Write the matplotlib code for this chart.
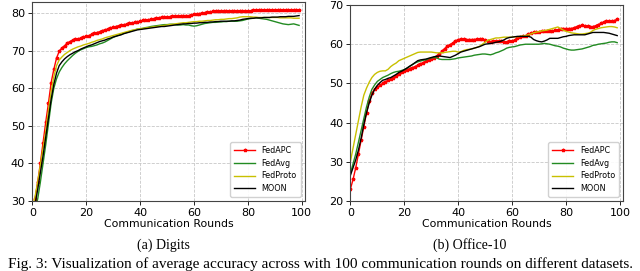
import numpy as np
import matplotlib.pyplot as plt

rounds = np.arange(100)

# Digits
digits_fedapc = [
    28.0, 30.5, 35.0, 40.0, 45.5, 51.0, 56.0, 61.5, 65.0, 68.0,
    69.8, 70.7, 71.3, 72.0, 72.4, 72.8, 73.0, 73.1, 73.3, 73.5,
    73.8, 74.0, 74.3, 74.6, 74.8, 75.0, 75.3, 75.5, 75.7, 76.0,
    76.2, 76.4, 76.6, 76.8, 76.9, 77.0, 77.2, 77.3, 77.5, 77.6,
    77.8, 78.0, 78.1, 78.2, 78.3, 78.5, 78.6, 78.7, 78.9, 78.9,
    79.0, 79.0, 79.1, 79.1, 79.2, 79.2, 79.3, 79.3, 79.3, 79.4,
    79.6, 79.7, 79.8, 80.0, 80.1, 80.2, 80.3, 80.4, 80.4, 80.5,
    80.5, 80.5, 80.5, 80.5, 80.5, 80.6, 80.6, 80.6, 80.6, 80.6,
    80.6, 80.6, 80.7, 80.7, 80.7, 80.7, 80.7, 80.7, 80.7, 80.7,
    80.7, 80.7, 80.7, 80.7, 80.7, 80.7, 80.7, 80.7, 80.7, 80.7]
digits_fedavg = [
    25.0, 27.5, 30.5, 35.0, 40.0, 45.0, 50.5, 56.0, 60.0, 62.5,
    64.3, 65.5, 66.5, 67.3, 68.0, 68.7, 69.3, 69.8, 70.2, 70.5,
    70.8, 71.0, 71.1, 71.3, 71.5, 71.8, 72.0, 72.3, 72.7, 73.1,
    73.5, 73.8, 74.1, 74.3, 74.6, 74.8, 75.0, 75.3, 75.5, 75.7,
    75.8, 75.9, 76.1, 76.2, 76.4, 76.5, 76.6, 76.7, 76.8, 76.9,
    76.9, 77.0, 77.0, 76.9, 76.8, 76.8, 76.9, 76.8, 76.8, 76.6,
    76.5, 76.6, 76.8, 77.0, 77.2, 77.3, 77.4, 77.5, 77.5, 77.6,
    77.6, 77.7, 77.7, 77.8, 77.8, 77.8, 77.8, 77.9, 78.0, 78.2,
    78.4, 78.5, 78.6, 78.7, 78.6, 78.5, 78.4, 78.3, 78.1, 77.9,
    77.7, 77.5, 77.3, 77.1, 77.0, 76.9, 77.0, 77.1, 76.9, 76.7]
digits_fedproto = [
    28.0, 31.0, 35.0, 39.5, 44.0, 48.5, 54.0, 59.0, 63.0, 66.0,
    67.5, 68.3, 69.0, 69.5, 70.0, 70.4, 70.7, 71.0, 71.2, 71.5,
    71.7, 71.9, 72.2, 72.4, 72.7, 72.9, 73.1, 73.4, 73.6, 73.8,
    74.0, 74.2, 74.4, 74.6, 74.8, 75.0, 75.2, 75.4, 75.5, 75.7,
    75.8, 75.9, 76.0, 76.1, 76.2, 76.3, 76.4, 76.5, 76.6, 76.7,
    76.8, 76.9, 77.0, 77.1, 77.2, 77.3, 77.4, 77.4, 77.5, 77.6,
    77.7, 77.7, 77.8, 77.8, 77.9, 78.0, 78.0, 78.1, 78.2, 78.2,
    78.3, 78.3, 78.4, 78.5, 78.5, 78.6, 78.7, 78.9, 79.0, 79.0,
    79.0, 79.0, 78.9, 78.9, 78.8, 78.8, 78.8, 78.8, 78.8, 78.8,
    78.8, 78.8, 78.7, 78.7, 78.7, 78.7, 78.7, 78.6, 78.6, 78.6]
digits_moon = [
    26.0, 29.0, 33.0, 37.5, 42.0, 47.0, 52.0, 57.0, 61.0, 64.0,
    66.0, 67.0, 67.8, 68.4, 68.9, 69.3, 69.7, 70.0, 70.4, 70.7,
    71.0, 71.3, 71.5, 71.8, 72.1, 72.4, 72.6, 72.8, 73.1, 73.3,
    73.6, 73.8, 74.0, 74.2, 74.5, 74.7, 74.9, 75.1, 75.3, 75.5,
    75.6, 75.7, 75.8, 75.9, 76.0, 76.1, 76.2, 76.3, 76.4, 76.4,
    76.5, 76.6, 76.7, 76.8, 76.9, 77.0, 77.1, 77.1, 77.2, 77.2,
    77.3, 77.3, 77.4, 77.4, 77.5, 77.5, 77.6, 77.6, 77.7, 77.7,
    77.8, 77.8, 77.8, 77.8, 77.9, 77.9, 78.0, 78.1, 78.3, 78.4,
    78.5, 78.6, 78.6, 78.7, 78.7, 78.7, 78.8, 78.8, 78.8, 78.9,
    78.9, 78.9, 79.0, 79.0, 79.0, 79.1, 79.1, 79.1, 79.2, 79.3]

# Office-10
office_fedapc = [
    23.0, 25.5, 28.5, 32.0, 35.5, 39.0, 42.5, 45.5, 47.5, 48.5,
    49.0, 49.5, 50.0, 50.4, 50.8, 51.1, 51.5, 52.0, 52.5, 52.9,
    53.2, 53.5, 53.8, 54.0, 54.3, 54.6, 55.0, 55.3, 55.7, 56.0,
    56.2, 56.6, 57.0, 57.5, 58.2, 58.9, 59.5, 59.9, 60.3, 60.8,
    61.2, 61.3, 61.3, 61.2, 61.2, 61.2, 61.2, 61.3, 61.3, 61.4,
    61.0, 60.8, 60.6, 60.7, 60.8, 60.8, 60.7, 60.6, 60.6, 60.7,
    60.8, 61.1, 61.5, 61.8, 62.0, 62.2, 62.5, 62.8, 63.0, 63.1,
    63.2, 63.3, 63.3, 63.3, 63.4, 63.4, 63.5, 63.7, 64.0, 64.0,
    64.0, 64.0, 64.0, 64.2, 64.5, 64.7, 64.8, 64.7, 64.6, 64.5,
    64.5, 64.7, 65.0, 65.3, 65.7, 65.8, 65.8, 65.9, 66.0, 66.4]
office_fedavg = [
    27.0, 29.5, 32.0, 35.0, 38.0, 41.0, 44.0, 46.5, 48.5, 49.6,
    50.5, 51.0, 51.5, 51.8, 52.1, 52.5, 52.8, 53.0, 53.1, 53.3,
    53.5, 53.9, 54.3, 54.8, 55.2, 55.5, 55.7, 55.9, 56.0, 56.3,
    56.5, 56.6, 56.5, 56.2, 56.1, 56.1, 56.1, 56.1, 56.2, 56.3,
    56.5, 56.6, 56.7, 56.8, 56.9, 57.0, 57.2, 57.3, 57.4, 57.5,
    57.5, 57.4, 57.3, 57.5, 57.8, 58.0, 58.3, 58.6, 59.0, 59.2,
    59.3, 59.4, 59.6, 59.8, 59.9, 60.0, 60.0, 60.0, 60.0, 60.0,
    60.0, 60.1, 60.2, 60.1, 60.0, 59.8, 59.6, 59.5, 59.3, 59.0,
    58.8, 58.6, 58.5, 58.5, 58.6, 58.7, 58.8, 59.0, 59.2, 59.4,
    59.7, 59.8, 60.0, 60.1, 60.2, 60.3, 60.5, 60.6, 60.6, 60.4]
office_fedproto = [
    30.0, 33.5, 37.0, 40.5, 44.0, 47.0, 48.8, 50.3, 51.5, 52.3,
    52.8, 53.1, 53.2, 53.2, 53.6, 54.3, 54.8, 55.2, 55.8, 56.1,
    56.4, 56.7, 57.0, 57.3, 57.6, 57.9, 58.0, 58.0, 58.0, 58.0,
    58.0, 57.9, 57.8, 57.8, 57.8, 57.9, 58.0, 58.1, 58.2, 58.2,
    58.0, 58.1, 58.4, 58.6, 58.7, 58.8, 59.0, 59.2, 59.5, 60.0,
    60.5, 61.0, 61.2, 61.4, 61.6, 61.6, 61.7, 61.8, 61.8, 61.8,
    61.8, 61.9, 61.9, 62.0, 62.1, 62.2, 62.4, 62.6, 62.9, 63.1,
    63.2, 63.4, 63.5, 63.6, 63.8, 64.0, 64.2, 64.4, 64.0, 63.6,
    63.3, 63.1, 62.9, 62.8, 62.7, 62.6, 62.6, 62.7, 62.8, 63.0,
    63.5, 63.8, 64.0, 64.2, 64.3, 64.4, 64.5, 64.5, 64.4, 64.2]
office_moon = [
    26.5, 28.5, 30.5, 33.0, 36.0, 39.5, 42.5, 45.0, 47.0, 48.5,
    49.5, 50.2, 50.8, 51.0, 51.3, 51.5, 51.9, 52.3, 52.8, 53.1,
    53.5, 53.9, 54.4, 54.8, 55.3, 55.8, 56.0, 56.1, 56.2, 56.4,
    56.6, 56.8, 56.9, 57.0, 56.9, 56.8, 56.7, 56.6, 56.9, 57.2,
    57.6, 58.0, 58.2, 58.4, 58.6, 58.8, 59.0, 59.2, 59.4, 59.7,
    60.0, 60.1, 60.2, 60.3, 60.5, 60.6, 60.8, 61.1, 61.5, 61.7,
    61.8, 61.9, 62.0, 62.0, 62.0, 62.0, 62.0, 61.8, 61.2, 60.9,
    60.7, 60.6, 60.8, 61.1, 61.5, 61.5, 61.5, 61.5, 61.7, 61.9,
    62.0, 62.2, 62.3, 62.4, 62.4, 62.4, 62.4, 62.4, 62.6, 62.8,
    63.0, 63.0, 63.0, 63.0, 63.0, 62.9, 62.8, 62.6, 62.4, 62.2]

labels = ['FedAPC', 'FedAvg', 'FedProto', 'MOON']
colors = ['#ff0000', '#228b22', '#c8c000', '#000000']


def draw_panel(ax, series, ylim, yticks):
    for ii, (vals, lab, col) in enumerate(zip(series, labels, colors)):
        if ii == 0:
            ax.plot(rounds, vals, color=col, lw=1.0, marker='*',
                    markersize=2.5, label=lab)
        else:
            ax.plot(rounds, vals, color=col, lw=1.0, label=lab)
    ax.set_xlim(-0.1, 101.2)
    ax.set_ylim(*ylim)
    ax.set_xticks([0, 20, 40, 60, 80, 100])
    ax.set_yticks(yticks)
    ax.tick_params(labelsize=8, length=3, width=0.6, pad=2)
    ax.grid(True, linestyle='--', color='#c8c8c8', linewidth=0.6)
    for sp in ax.spines.values():
        sp.set_color('#444444')
        sp.set_linewidth(0.8)
    ax.set_xlabel('Communication Rounds', fontsize=7.8, labelpad=1)
    ax.legend(loc='lower right', fontsize=5.8, handlelength=2.6,
              borderpad=0.5, labelspacing=0.45, fancybox=True,
              framealpha=0.9, borderaxespad=0.5)


fig = plt.figure(figsize=(6.4, 2.71), dpi=100)
ax1 = fig.add_axes([0.05, 0.2583, 0.4266, 0.7355])
ax2 = fig.add_axes([0.547, 0.2583, 0.4266, 0.7232])

draw_panel(ax1, [digits_fedapc, digits_fedavg, digits_fedproto, digits_moon],
           (30, 83), [30, 40, 50, 60, 70, 80])
draw_panel(ax2, [office_fedapc, office_fedavg, office_fedproto, office_moon],
           (20, 70), [20, 30, 40, 50, 60, 70])

serif = ['Liberation Serif', 'DejaVu Serif']
fig.text(163 / 640, 1 - 245 / 271, '(a) Digits', ha='center', va='center',
         fontsize=10, family=serif)
fig.text(470 / 640, 1 - 245 / 271, '(b) Office-10', ha='center', va='center',
         fontsize=10, family=serif)
fig.text(0.5, 1 - 264 / 271,
         'Fig. 3: Visualization of average accuracy across with 100 '
         'communication rounds on different datasets.',
         ha='center', va='center', fontsize=11, family=serif)

fig.savefig('out.png', dpi=100)
